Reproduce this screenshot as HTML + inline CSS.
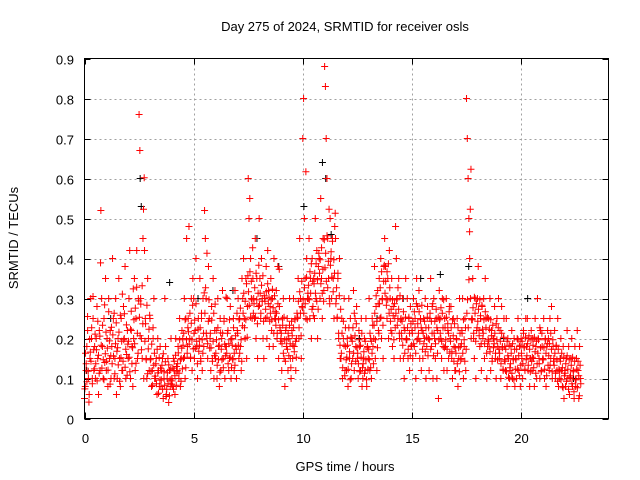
<!DOCTYPE html>
<html><head><meta charset="utf-8"><style>
body{margin:0;background:#fff;}
svg{display:block;font-family:"Liberation Sans",sans-serif;}
</style></head><body>
<svg id="chart" width="640" height="480">
<text x="345" y="31" font-size="13" text-anchor="middle">Day 275 of 2024, SRMTID for receiver osls</text>
<text x="345" y="471" font-size="13" text-anchor="middle">GPS time / hours</text>
<text transform="translate(18,238) rotate(-90)" font-size="13" text-anchor="middle">SRMTID / TECUs</text>
<g id="grid"></g><g id="ticks"></g><g id="pts"></g>
<rect x="84.5" y="58.5" width="524" height="360" fill="none" stroke="#000"/>
</svg>
<script>
const xTicks=[0,5,10,15,20];
const yTicks=[0,0.1,0.2,0.3,0.4,0.5,0.6,0.7,0.8,0.9];
const binStart=[0,0.25,0.5,0.75,1,1.25,1.5,1.75,2,2.25,2.5,2.75,3,3.25,3.5,3.75,4,4.25,4.5,4.75,5,5.25,5.5,5.75,6,6.25,6.5,6.75,7,7.25,7.5,7.75,8,8.25,8.5,8.75,9,9.25,9.5,9.75,10,10.25,10.5,10.75,11,11.25,11.5,11.75,12,12.25,12.5,12.75,13,13.25,13.5,13.75,14,14.25,14.5,14.75,15,15.25,15.5,15.75,16,16.25,16.5,16.75,17,17.25,17.5,17.75,18,18.25,18.5,18.75,19,19.25,19.5,19.75,20,20.25,20.5,20.75,21,21.25,21.5,21.75,22,22.25,22.5];
const redValues=[
[0.05,0.08,0.12,0.18,0.22,0.1,0.06],[0.15,0.3,0.2,0.1,0.25,0.12,0.18],[0.1,0.2,0.28,0.15,0.06,0.22,0.12],[0.52,0.3,0.18,0.1,0.25,0.14,0.35],
[0.12,0.2,0.08,0.3,0.15,0.22,0.1],[0.18,0.4,0.25,0.1,0.15,0.3,0.06],[0.1,0.2,0.35,0.15,0.08,0.25,0.12],[0.12,0.28,0.2,0.38,0.1,0.16,0.22],
[0.15,0.3,0.42,0.1,0.22,0.18,0.08],[0.2,0.35,0.12,0.25,0.42,0.15,0.3],[0.76,0.67,0.3,0.2,0.15,0.45,0.1],[0.42,0.25,0.15,0.1,0.35,0.2,0.12],
[0.25,0.15,0.08,0.12,0.2,0.3,0.1],[0.1,0.15,0.06,0.2,0.12,0.08,0.18],[0.08,0.12,0.15,0.05,0.1,0.3,0.18],[0.06,0.1,0.15,0.04,0.12,0.08,0.2],
[0.1,0.08,0.15,0.12,0.06,0.2,0.13],[0.12,0.18,0.1,0.25,0.08,0.15,0.22],[0.2,0.15,0.3,0.1,0.25,0.45,0.18],[0.25,0.48,0.2,0.15,0.3,0.12,0.35],
[0.3,0.15,0.22,0.4,0.18,0.1,0.25],[0.2,0.35,0.15,0.25,0.12,0.3,0.18],[0.52,0.45,0.3,0.2,0.15,0.38,0.25],[0.2,0.12,0.28,0.15,0.35,0.1,0.22],
[0.15,0.22,0.1,0.3,0.18,0.08,0.25],[0.12,0.2,0.32,0.15,0.25,0.1,0.18],[0.18,0.3,0.22,0.12,0.15,0.28,0.1],[0.2,0.15,0.25,0.12,0.32,0.18,0.1],
[0.22,0.3,0.15,0.25,0.18,0.12,0.35],[0.3,0.4,0.25,0.2,0.35,0.15,0.28],[0.6,0.5,0.55,0.4,0.3,0.25,0.35],[0.3,0.25,0.45,0.2,0.35,0.15,0.28],
[0.5,0.35,0.25,0.4,0.3,0.2,0.15],[0.3,0.25,0.38,0.2,0.42,0.32,0.18],[0.28,0.35,0.22,0.3,0.18,0.4,0.25],[0.25,0.32,0.2,0.38,0.15,0.28,0.22],
[0.2,0.12,0.25,0.3,0.15,0.08,0.22],[0.18,0.25,0.12,0.2,0.3,0.15,0.1],[0.22,0.15,0.3,0.18,0.25,0.12,0.2],[0.25,0.35,0.2,0.45,0.3,0.15,0.28],
[0.7,0.8,0.5,0.35,0.25,0.4,0.3],[0.3,0.45,0.25,0.35,0.2,0.4,0.28],[0.35,0.25,0.5,0.3,0.42,0.2,0.38],[0.4,0.3,0.55,0.35,0.25,0.45,0.32],
[0.88,0.83,0.7,0.6,0.45,0.35,0.3],[0.5,0.4,0.3,0.45,0.35,0.25,0.48],[0.45,0.3,0.25,0.35,0.2,0.4,0.15],[0.15,0.25,0.1,0.2,0.3,0.12,0.18],
[0.12,0.2,0.08,0.3,0.15,0.25,0.1],[0.2,0.15,0.32,0.12,0.25,0.18,0.28],[0.15,0.1,0.22,0.18,0.12,0.25,0.08],[0.1,0.15,0.2,0.12,0.25,0.08,0.18],
[0.15,0.3,0.12,0.2,0.1,0.25,0.18],[0.2,0.38,0.15,0.28,0.12,0.32,0.22],[0.35,0.25,0.4,0.2,0.3,0.15,0.38],[0.45,0.38,0.3,0.25,0.35,0.2,0.42],
[0.3,0.22,0.35,0.18,0.28,0.15,0.25],[0.48,0.4,0.3,0.25,0.35,0.2,0.15],[0.25,0.2,0.3,0.15,0.1,0.22,0.35],[0.2,0.3,0.15,0.25,0.12,0.28,0.18],
[0.22,0.15,0.3,0.18,0.25,0.1,0.35],[0.28,0.2,0.32,0.15,0.25,0.12,0.22],[0.15,0.25,0.2,0.3,0.1,0.18,0.28],[0.2,0.12,0.25,0.35,0.18,0.28,0.1],
[0.3,0.2,0.15,0.25,0.1,0.22,0.05],[0.32,0.25,0.2,0.15,0.3,0.18,0.12],[0.25,0.18,0.3,0.12,0.22,0.15,0.28],[0.2,0.28,0.15,0.1,0.25,0.18,0.12],
[0.12,0.2,0.25,0.08,0.15,0.3,0.18],[0.15,0.22,0.3,0.1,0.18,0.25,0.12],[0.8,0.7,0.6,0.5,0.4,0.3,0.2],[0.25,0.35,0.2,0.15,0.3,0.1,0.22],
[0.3,0.38,0.22,0.18,0.25,0.12,0.28],[0.2,0.3,0.15,0.35,0.25,0.1,0.18],[0.25,0.18,0.3,0.12,0.22,0.15,0.2],[0.2,0.28,0.15,0.1,0.25,0.18,0.3],
[0.15,0.22,0.1,0.28,0.18,0.12,0.25],[0.18,0.12,0.25,0.08,0.2,0.15,0.1],[0.12,0.18,0.22,0.1,0.15,0.2,0.08],[0.15,0.1,0.2,0.25,0.12,0.18,0.08],
[0.2,0.15,0.1,0.22,0.18,0.12,0.25],[0.18,0.25,0.12,0.2,0.08,0.15,0.22],[0.12,0.2,0.15,0.08,0.25,0.18,0.1],[0.3,0.2,0.15,0.1,0.22,0.12,0.18],
[0.15,0.25,0.1,0.2,0.08,0.18,0.22],[0.2,0.12,0.25,0.15,0.28,0.1,0.18],[0.15,0.22,0.1,0.18,0.12,0.25,0.08],[0.1,0.15,0.2,0.12,0.08,0.18,0.05],
[0.12,0.08,0.15,0.22,0.1,0.18,0.06],[0.1,0.15,0.2,0.08,0.12,0.05,0.18],[0.08,0.15,0.22,0.12,0.05,0.18,0.1]];
const redValues2=[
[0.074,0.163,0.137,0.092,0.255,0.118,0.041,0.198],[0.166,0.143,0.227,0.087,0.305,0.172,0.124,0.211],[0.137,0.172,0.094,0.243,0.158,0.113,0.206,0.389],[0.183,0.126,0.233,0.147,0.097,0.284,0.162,0.216],
[0.143,0.176,0.121,0.267,0.194,0.086,0.157,0.228],[0.137,0.209,0.156,0.263,0.112,0.187,0.239,0.168],[0.177,0.134,0.216,0.093,0.258,0.152,0.193,0.311],[0.143,0.197,0.262,0.128,0.173,0.234,0.108,0.186],
[0.193,0.153,0.117,0.223,0.268,0.137,0.177,0.324],[0.247,0.187,0.276,0.138,0.328,0.213,0.163,0.294],[0.253,0.207,0.286,0.172,0.332,0.237,0.523,0.602],[0.193,0.237,0.147,0.283,0.112,0.174,0.223,0.258],
[0.147,0.118,0.186,0.083,0.227,0.133,0.163,0.106],[0.137,0.087,0.173,0.114,0.063,0.152,0.096,0.126],[0.097,0.133,0.073,0.162,0.117,0.083,0.142,0.055],[0.073,0.114,0.087,0.134,0.057,0.097,0.123,0.086],
[0.094,0.126,0.073,0.143,0.107,0.158,0.083,0.117],[0.137,0.164,0.113,0.197,0.147,0.093,0.176,0.124],[0.183,0.213,0.153,0.247,0.127,0.197,0.163,0.227],[0.217,0.186,0.263,0.153,0.238,0.197,0.283,0.174],
[0.213,0.246,0.176,0.287,0.193,0.137,0.223,0.168],[0.183,0.227,0.143,0.263,0.197,0.163,0.213,0.314],[0.263,0.327,0.213,0.413,0.187,0.243,0.297,0.176],[0.213,0.177,0.246,0.143,0.193,0.263,0.157,0.286],
[0.163,0.197,0.133,0.227,0.147,0.183,0.116,0.214],[0.173,0.147,0.213,0.127,0.243,0.186,0.157,0.303],[0.163,0.213,0.137,0.187,0.247,0.153,0.197,0.127],[0.183,0.147,0.227,0.163,0.133,0.207,0.173,0.263],
[0.213,0.183,0.247,0.163,0.276,0.197,0.143,0.232],[0.263,0.313,0.227,0.293,0.247,0.337,0.203,0.357],[0.317,0.283,0.367,0.253,0.343,0.297,0.427,0.263],[0.287,0.327,0.253,0.363,0.297,0.237,0.313,0.383],
[0.283,0.313,0.263,0.333,0.293,0.357,0.243,0.307],[0.293,0.273,0.317,0.253,0.337,0.287,0.303,0.243],[0.263,0.297,0.247,0.323,0.277,0.213,0.307,0.267],[0.233,0.263,0.213,0.287,0.247,0.373,0.227,0.193],
[0.213,0.187,0.233,0.163,0.253,0.197,0.143,0.227],[0.197,0.173,0.213,0.157,0.233,0.187,0.127,0.243],[0.207,0.183,0.227,0.167,0.247,0.193,0.153,0.263],[0.253,0.293,0.227,0.317,0.263,0.207,0.343,0.277],
[0.297,0.263,0.327,0.287,0.617,0.353,0.247,0.313],[0.333,0.297,0.367,0.313,0.387,0.273,0.343,0.257],[0.337,0.363,0.313,0.387,0.293,0.347,0.273,0.413],[0.363,0.397,0.337,0.427,0.313,0.373,0.293,0.447],
[0.377,0.413,0.343,0.457,0.327,0.393,0.523,0.287],[0.383,0.417,0.353,0.443,0.317,0.397,0.363,0.513],[0.287,0.327,0.253,0.363,0.213,0.307,0.183,0.273],[0.163,0.213,0.127,0.243,0.183,0.107,0.227,0.147],
[0.153,0.183,0.123,0.227,0.167,0.097,0.203,0.137],[0.193,0.227,0.163,0.263,0.207,0.143,0.237,0.177],[0.163,0.137,0.197,0.117,0.183,0.153,0.213,0.127],[0.137,0.167,0.113,0.193,0.147,0.097,0.177,0.123],
[0.173,0.147,0.213,0.127,0.193,0.163,0.233,0.137],[0.233,0.263,0.197,0.307,0.243,0.177,0.287,0.213],[0.287,0.327,0.253,0.367,0.297,0.233,0.343,0.383],[0.313,0.343,0.283,0.367,0.297,0.387,0.263,0.327],
[0.243,0.273,0.213,0.297,0.257,0.197,0.287,0.227],[0.263,0.297,0.233,0.327,0.273,0.213,0.307,0.247],[0.213,0.243,0.183,0.267,0.227,0.163,0.253,0.197],[0.197,0.227,0.173,0.253,0.213,0.157,0.237,0.183],
[0.213,0.243,0.187,0.267,0.227,0.163,0.287,0.197],[0.237,0.213,0.267,0.193,0.247,0.227,0.283,0.173],[0.213,0.187,0.243,0.167,0.227,0.203,0.253,0.157],[0.227,0.197,0.263,0.173,0.243,0.213,0.287,0.157],
[0.213,0.243,0.187,0.273,0.227,0.163,0.253,0.197],[0.247,0.213,0.277,0.193,0.263,0.227,0.297,0.177],[0.227,0.197,0.253,0.173,0.237,0.213,0.267,0.163],[0.193,0.227,0.167,0.247,0.207,0.143,0.237,0.177],
[0.163,0.197,0.137,0.227,0.177,0.117,0.213,0.147],[0.187,0.213,0.163,0.247,0.197,0.143,0.227,0.173],[0.263,0.297,0.227,0.347,0.467,0.523,0.623,0.247],[0.247,0.277,0.213,0.303,0.263,0.193,0.287,0.227],
[0.243,0.273,0.207,0.297,0.257,0.187,0.283,0.223],[0.213,0.247,0.187,0.267,0.227,0.163,0.253,0.197],[0.193,0.223,0.167,0.247,0.207,0.143,0.233,0.177],[0.187,0.213,0.163,0.237,0.197,0.147,0.227,0.173],
[0.163,0.193,0.137,0.213,0.177,0.123,0.203,0.147],[0.143,0.173,0.117,0.193,0.157,0.103,0.183,0.127],[0.137,0.163,0.113,0.187,0.147,0.097,0.173,0.123],[0.147,0.173,0.123,0.197,0.157,0.107,0.183,0.133],
[0.163,0.193,0.137,0.213,0.177,0.123,0.203,0.147],[0.157,0.187,0.133,0.207,0.173,0.117,0.197,0.143],[0.153,0.183,0.127,0.203,0.167,0.113,0.193,0.137],[0.163,0.197,0.137,0.227,0.177,0.117,0.213,0.147],
[0.147,0.177,0.123,0.197,0.163,0.107,0.187,0.133],[0.157,0.187,0.133,0.213,0.173,0.117,0.197,0.143],[0.133,0.163,0.113,0.183,0.147,0.093,0.173,0.123],[0.117,0.143,0.097,0.163,0.127,0.077,0.153,0.107],
[0.113,0.137,0.093,0.157,0.123,0.073,0.147,0.103],[0.107,0.133,0.087,0.153,0.117,0.067,0.143,0.097],[0.097,0.123,0.077,0.143,0.107,0.057,0.133,0.087]];
const blackTimes=[0.1,1.2,2.55,2.6,3.9,5.2,6.8,7.9,8.9,10.05,10.9,11.05,11.3,12.6,13.4,14.6,15.4,16.3,17.6,19.2,20.3,21.8,22.4];
const blackValues=[0.12,0.25,0.6,0.53,0.34,0.3,0.32,0.45,0.38,0.53,0.64,0.6,0.46,0.2,0.25,0.3,0.35,0.36,0.38,0.2,0.3,0.15,0.1];

const X0=84.5,XS=21.83,Y0=418.5,YS=400;
const xs=v=>X0+v*XS, ys=v=>Y0-v*YS;
const NS="http://www.w3.org/2000/svg";
const grid=document.getElementById('grid'),ticks=document.getElementById('ticks'),pts=document.getElementById('pts');
function mk(tag,attrs,parent){const e=document.createElementNS(NS,tag);for(const k in attrs)e.setAttribute(k,attrs[k]);parent.appendChild(e);return e;}
yTicks.forEach(t=>{
  const y=Math.round(ys(t))+0.5;
  if(t>0&&t<0.9){const g=mk('line',{x1:X0,x2:608.5,y1:y,y2:y,stroke:'#a0a0a0','stroke-dasharray':'2,3'},grid);
  
  }
  mk('line',{x1:X0,x2:X0+6,y1:y,y2:y,stroke:'#000'},ticks);
  mk('line',{x1:608.5,x2:602.5,y1:y,y2:y,stroke:'#000'},ticks);
  const l=mk('text',{x:74,y:y+5,'font-size':13,'text-anchor':'end'},ticks);l.textContent=String(t);
  
  
});
xTicks.forEach(t=>{
  const x=Math.round(xs(t))+0.5;
  if(t>0){const g=mk('line',{x1:x,x2:x,y1:58.5,y2:Y0,stroke:'#a0a0a0','stroke-dasharray':'2,3'},grid);
  
  }
  mk('line',{x1:x,x2:x,y1:Y0,y2:Y0-6,stroke:'#000'},ticks);
  mk('line',{x1:x,x2:x,y1:58.5,y2:64.5,stroke:'#000'},ticks);
  const l=mk('text',{x:x,y:443,'font-size':13,'text-anchor':'middle'},ticks);l.textContent=String(t);
  
  
});
function plus(x,y,c,name){
  const p=mk('path',{d:`M${x-3.5},${y}h7M${x},${y-3.5}v7`,stroke:c,'stroke-width':1,fill:'none'},pts);
  
  
}
blackTimes.forEach((t,i)=>plus(xs(t),ys(blackValues[i]),'#000','black-point'));
binStart.forEach((t,b)=>{
  const vals=redValues[b];
  vals.forEach((v,i)=>plus(xs(t+i*0.25/vals.length),ys(v),'#ff0000','red-point'));
  const v2=redValues2[b];
  v2.forEach((v,i)=>plus(xs(t+(i+0.5)*0.25/v2.length),ys(v),'#ff0000','red-point'));
});
</script>
</body></html>
